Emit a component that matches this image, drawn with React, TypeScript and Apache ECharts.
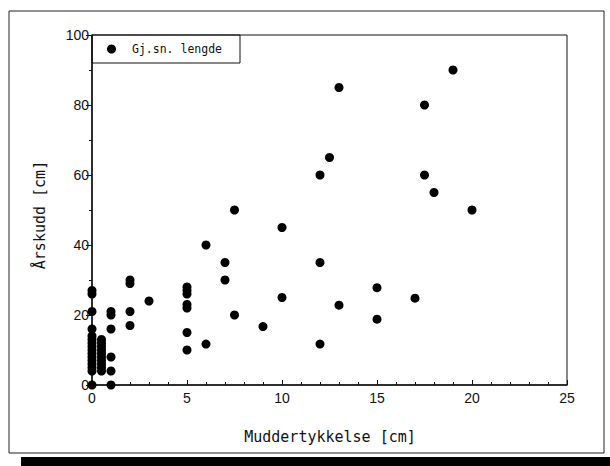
import React, { useEffect, useRef } from "react";
import * as echarts from "echarts";

const mudThickness: number[] = [
  0, 0, 0, 0, 0, 0, 0, 0, 0, 0, 0, 0, 0, 0, 0, 0,
  0.5, 0.5, 0.5, 0.5, 0.5, 0.5, 0.5, 0.5, 0.5, 0.5,
  1, 1, 1, 1, 1, 1,
  2, 2, 2, 2,
  3,
  5, 5, 5, 5, 5, 5, 5,
  6, 6,
  7, 7,
  7.5, 7.5,
  9,
  10, 10,
  12, 12, 12,
  12.5,
  13, 13,
  15, 15,
  17,
  17.5, 17.5,
  18,
  19,
  20,
];
const annualShoot: number[] = [
  27, 26, 21, 16, 14, 13, 12, 11, 10, 9, 8, 7, 6, 5, 4, 0,
  13, 12, 11, 10, 9, 8, 7, 6, 5, 4,
  21, 20, 16, 8, 4, 0,
  30, 29, 21, 17,
  24,
  28, 27, 26, 23, 22, 15, 10,
  40, 11.7,
  35, 30,
  50, 20,
  16.7,
  45, 25,
  60, 35, 11.7,
  65,
  85, 22.8,
  27.8, 18.8,
  24.8,
  80, 60,
  55,
  90,
  50,
];
const xTicks: number[] = [0, 5, 10, 15, 20, 25];
const yTicks: number[] = [0, 20, 40, 60, 80, 100];
const seriesName = "Gj.sn. lengde";
const xTitle = "Muddertykkelse [cm]";
const yTitle = "Årskudd [cm]";

export default function App() {
  const ref = useRef<HTMLDivElement>(null);
  useEffect(() => {
    if (!ref.current) return;
    const chart = echarts.init(ref.current, null, { renderer: "svg" });
    const data = mudThickness.map((x, i) => [x, annualShoot[i]]);
    const labelFont = { fontFamily: "Liberation Sans", fontSize: 14, color: "#111" };
    chart.setOption({
      animation: false,
      backgroundColor: "#fff",
      grid: {
        left: 92,
        right: 43,
        top: 35,
        bottom: 81,
        show: true,
        borderColor: "#111",
        borderWidth: 1,
        backgroundColor: "transparent",
      },
      legend: {
        left: 92,
        top: 35,
        orient: "horizontal",
        borderColor: "#111",
        borderWidth: 1,
        padding: [7, 18, 7, 15],
        itemWidth: 9,
        itemHeight: 9,
        itemGap: 5,
        textStyle: {
          fontFamily: "DejaVu Sans Mono",
          fontSize: 11.5,
          color: "#111",
          padding: [0, 0, 0, 11],
          lineHeight: 14,
        },
        itemStyle: { opacity: 1, color: "#000" },
        data: [{ name: seriesName, icon: "circle" }],
      },
      xAxis: {
        type: "value",
        min: xTicks[0],
        max: xTicks[xTicks.length - 1],
        interval: 5,
        axisLine: { show: true, lineStyle: { color: "#111", width: 1.5 } },
        axisTick: { show: true, inside: true, length: 5, lineStyle: { color: "#111" } },
        minorTick: { show: true, splitNumber: 5, length: 3, lineStyle: { color: "#111" } },
        splitLine: { show: false },
        axisLabel: { ...labelFont, margin: 6 },
      },
      yAxis: {
        type: "value",
        min: yTicks[0],
        max: yTicks[yTicks.length - 1],
        interval: 20,
        axisLine: { show: true, lineStyle: { color: "#111", width: 1.5 } },
        axisTick: { show: true, inside: false, length: 6, lineStyle: { color: "#111" } },
        minorTick: { show: true, splitNumber: 2, length: 3, lineStyle: { color: "#111" } },
        splitLine: { show: false },
        axisLabel: { ...labelFont, margin: 3 },
      },
      series: [
        {
          name: seriesName,
          type: "scatter",
          data,
          symbol: "circle",
          symbolSize: 9,
          itemStyle: { color: "#000", opacity: 1 },
          clip: false,
        },
      ],
      graphic: [
        {
          type: "rect",
          shape: { x: 9, y: 11, width: 595, height: 442 },
          style: { fill: "none", stroke: "#222", lineWidth: 1 },
          silent: true,
          z: -1,
        },
        {
          type: "rect",
          shape: { x: 21, y: 457, width: 589, height: 9 },
          style: { fill: "#000" },
          silent: true,
        },
        {
          type: "text",
          x: 330,
          y: 437,
          style: {
            text: xTitle,
            fontFamily: "DejaVu Sans Mono",
            fontSize: 15,
            fill: "#111",
            align: "center",
            verticalAlign: "middle",
          },
        },
        {
          type: "text",
          x: 40,
          y: 215,
          rotation: Math.PI / 2,
          style: {
            text: yTitle,
            fontFamily: "DejaVu Sans Mono",
            fontSize: 15,
            fill: "#111",
            align: "center",
            verticalAlign: "middle",
          },
        },
      ],
    });
    return () => chart.dispose();
  }, []);
  return (
    <div
      ref={ref}
      style={{ position: "absolute", left: 0, top: 0, width: 610, height: 466 }}
    />
  );
}
